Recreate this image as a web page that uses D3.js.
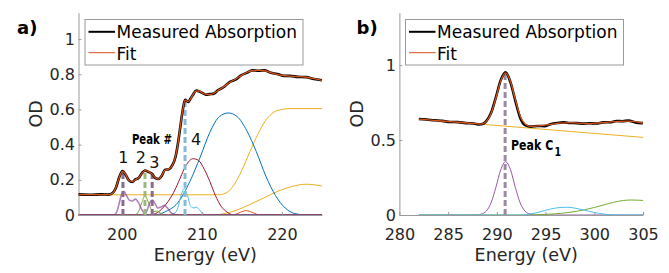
<!DOCTYPE html>
<html lang="en">
  <head>
    <meta charset="utf-8" />
    <script src="https://d3js.org/d3.v7.min.js"></script>
    <style>
      body { margin: 0; background: #fff; }
      text { font-family: "DejaVu Sans", Verdana, sans-serif; }
    </style>
  </head>
  <body>
    <script>
      var width = 669,
        height = 273;

      // ---------- panel a) data, [energy eV, OD]
      var aFit = [
        [194.6, 0.116], [198.4, 0.116], [198.9, 0.125], [199.3, 0.16], [199.7, 0.215],
        [200.1, 0.248], [200.5, 0.23], [200.9, 0.196], [201.3, 0.19], [201.7, 0.2],
        [202.1, 0.212], [202.5, 0.235], [202.9, 0.252], [203.3, 0.248], [203.8, 0.232],
        [204.2, 0.212], [204.6, 0.204], [205.0, 0.225], [205.4, 0.255], [205.9, 0.262],
        [206.3, 0.28], [206.7, 0.33], [207.0, 0.4], [207.3, 0.5], [207.6, 0.59],
        [207.9, 0.653], [208.3, 0.645], [208.6, 0.66], [208.9, 0.685], [209.3, 0.705],
        [209.7, 0.704], [210.1, 0.692], [210.5, 0.686], [211.0, 0.685], [211.5, 0.692],
        [212.0, 0.707], [212.7, 0.728], [213.5, 0.755], [214.2, 0.772], [214.9, 0.792],
        [215.6, 0.81], [216.3, 0.82], [217.1, 0.822], [217.8, 0.82], [218.6, 0.81],
        [219.4, 0.8], [220.2, 0.793], [221.0, 0.79], [222.0, 0.787], [223.0, 0.783],
        [224.0, 0.775], [225.0, 0.765]
      ];
      var aMeasured = [
        [194.6, 0.117], [196.0, 0.115], [197.5, 0.117], [198.4, 0.116], [198.9, 0.127],
        [199.3, 0.158], [199.7, 0.217], [200.1, 0.25], [200.5, 0.228], [200.9, 0.197],
        [201.3, 0.188], [201.7, 0.202], [202.1, 0.21], [202.5, 0.237], [202.9, 0.253],
        [203.3, 0.246], [203.8, 0.233], [204.2, 0.21], [204.6, 0.205], [205.0, 0.223],
        [205.4, 0.257], [205.9, 0.26], [206.3, 0.282], [206.7, 0.328], [207.0, 0.402],
        [207.3, 0.498], [207.6, 0.592], [207.9, 0.655], [208.3, 0.643], [208.6, 0.662],
        [208.9, 0.684], [209.3, 0.707], [209.7, 0.702], [210.1, 0.693], [210.5, 0.684],
        [211.0, 0.687], [211.5, 0.69], [212.0, 0.709], [212.7, 0.726], [213.5, 0.757],
        [214.2, 0.77], [214.9, 0.794], [215.6, 0.808], [216.3, 0.822], [217.1, 0.82],
        [217.8, 0.822], [218.6, 0.808], [219.4, 0.802], [220.2, 0.791], [221.0, 0.791],
        [222.0, 0.785], [223.0, 0.784], [224.0, 0.773], [225.0, 0.766]
      ];
      var aStep = [
        [194.6, 0.115], [212.0, 0.115], [213.0, 0.125], [214.0, 0.17], [215.0, 0.255],
        [216.0, 0.36], [217.0, 0.46], [218.0, 0.54], [219.0, 0.585], [220.0, 0.6],
        [221.0, 0.605], [225.0, 0.605]
      ];
      var aBroad = [
        [194.6, 0], [211.5, 0], [213.0, 0.01], [214.5, 0.03], [216.0, 0.06], [217.5, 0.092],
        [219.0, 0.125], [220.5, 0.152], [222.0, 0.17], [223.0, 0.175], [224.0, 0.172], [225.0, 0.165]
      ];
      var aBlue = [
        [194.6, 0], [204.0, 0], [205.5, 0.02], [207.0, 0.07], [208.5, 0.19], [209.8, 0.33],
        [211.0, 0.47], [212.2, 0.56], [213.3, 0.58], [214.4, 0.56], [215.6, 0.48],
        [216.8, 0.36], [218.0, 0.22], [219.2, 0.11], [220.4, 0.04], [221.6, 0.008],
        [223.0, 0], [225.0, 0]
      ];
      var aRed = [
        [194.6, 0], [203.5, 0], [204.5, 0.015], [205.5, 0.06], [206.5, 0.13], [207.3, 0.21],
        [208.0, 0.28], [208.9, 0.32], [209.6, 0.31], [210.3, 0.26], [211.0, 0.19],
        [211.7, 0.11], [212.4, 0.05], [213.2, 0.015], [214.0, 0], [225.0, 0]
      ];
      var aCyan = [
        [194.6, 0], [205.8, 0], [206.6, 0.01], [207.0, 0.04], [207.4, 0.11], [207.8, 0.15],
        [208.2, 0.11], [208.6, 0.05], [209.0, 0.04], [209.3, 0.045], [209.7, 0.03],
        [210.2, 0.005], [210.6, 0], [225.0, 0]
      ];
      var aGreen = [
        [194.6, 0], [201.6, 0], [202.1, 0.02], [202.5, 0.07], [202.9, 0.108], [203.3, 0.075],
        [203.7, 0.03], [204.0, 0.02], [204.4, 0.022], [204.8, 0.012], [205.3, 0.002],
        [205.8, 0], [225.0, 0]
      ];
      var aOrange = [
        [194.6, 0], [213.8, 0], [214.8, 0.015], [215.5, 0.025], [216.3, 0.015], [217.2, 0], [225.0, 0]
      ];
      var aPurple1 = [
        [194.6, 0], [199.0, 0], [199.4, 0.02], [199.7, 0.07], [200.0, 0.12], [200.25, 0.135],
        [200.6, 0.11], [201.0, 0.082], [201.3, 0.08], [201.7, 0.09], [202.1, 0.07],
        [202.5, 0.03], [202.9, 0.005], [203.3, 0], [225.0, 0]
      ];
      var aPurple2 = [
        [194.6, 0], [202.6, 0], [203.1, 0.02], [203.5, 0.07], [203.8, 0.085], [204.1, 0.07],
        [204.5, 0.04], [204.9, 0.045], [205.3, 0.055], [205.7, 0.04], [206.1, 0.015],
        [206.6, 0.002], [207.0, 0], [225.0, 0]
      ];
      // peak markers: energy, top of dashed line, colour
      var aPeakE = [200.15, 202.9, 203.8, 207.9];
      var aPeakTop = [0.248, 0.252, 0.232, 0.653];
      var aPeakColor = ["#8a6c90", "#9cb87e", "#8a6c90", "#86bad6"];
      // labels over the peaks, [energy, OD, text]
      var aLabels = [
        [200.19, 0.295, "1"], [202.39, 0.295, "2"], [204.08, 0.265, "3"], [209.28, 0.398, "4"]
      ];
      var aXTicks = [200, 210, 220];
      var aYTicks = [0, 0.2, 0.4, 0.6, 0.8, 1];

      // ---------- panel b) data
      var bFit = [
        [282, 0.64], [283, 0.635], [284, 0.629], [285, 0.624], [286, 0.619], [287, 0.614],
        [288, 0.608], [288.4, 0.606], [288.9, 0.623], [289.4, 0.675], [289.9, 0.779],
        [290.4, 0.895], [290.9, 0.949], [291.4, 0.89], [291.9, 0.77], [292.4, 0.66],
        [292.9, 0.608], [293.5, 0.592], [294.5, 0.596], [295.5, 0.605], [296.5, 0.613],
        [297.5, 0.617], [298.5, 0.612], [299.5, 0.61], [300.5, 0.614], [301.5, 0.62],
        [302.5, 0.625], [303.5, 0.627], [304.3, 0.622], [305, 0.614]
      ];
      var bMeasured = [
        [282, 0.641], [282.8, 0.637], [283.6, 0.632], [284.4, 0.628], [285.2, 0.621],
        [286, 0.62], [286.8, 0.613], [287.6, 0.611], [288.2, 0.604], [288.6, 0.609],
        [288.9, 0.625], [289.4, 0.68], [289.9, 0.785], [290.4, 0.9], [290.9, 0.952],
        [291.4, 0.885], [291.9, 0.762], [292.4, 0.648], [292.9, 0.6], [293.5, 0.59],
        [294.2, 0.594], [294.9, 0.593], [295.5, 0.606], [296.2, 0.614], [296.9, 0.618],
        [297.5, 0.614], [298.2, 0.613], [298.9, 0.61], [299.5, 0.612], [300.2, 0.611],
        [300.9, 0.618], [301.6, 0.619], [302.3, 0.627], [302.9, 0.626], [303.5, 0.63],
        [304.2, 0.618], [305, 0.613]
      ];
      var bBase = [[282, 0.64], [305, 0.518]];
      var bPurple = [
        [282, 0], [288, 0], [288.4, 0.006], [288.9, 0.025], [289.4, 0.08], [289.9, 0.184],
        [290.4, 0.302], [290.9, 0.356], [291.4, 0.302], [291.9, 0.184], [292.4, 0.08],
        [292.9, 0.025], [293.4, 0.006], [293.9, 0], [305, 0]
      ];
      var bCyan = [
        [282, 0], [292.5, 0], [293.5, 0.008], [294.5, 0.022], [295.5, 0.04], [296.5, 0.05],
        [297.2, 0.052], [298, 0.046], [299, 0.032], [300, 0.017], [301, 0.006], [302, 0.001],
        [303, 0], [305, 0]
      ];
      var bGreen = [
        [282, 0], [293, 0], [294.5, 0.003], [296, 0.008], [297.5, 0.018], [299, 0.035],
        [300, 0.05], [301, 0.068], [302, 0.085], [303, 0.097], [303.8, 0.1], [304.5, 0.099], [305, 0.097]
      ];
      var bPeakE = [290.85];
      var bPeakTop = [0.95];
      var bPeakColor = ["#9c8aa3"];
      var bXTicks = [280, 285, 290, 295, 300, 305];
      var bYTicks = [0, 0.5, 1];

      var svg = d3
        .select("body")
        .append("svg")
        .attr("width", width)
        .attr("height", height);

      function drawPanel(p) {
        var x = d3.scaleLinear().domain(p.xDomain).range([p.left, p.right]);
        var y = d3.scaleLinear().domain(p.yDomain).range([215, 12.7]);
        var line = d3
          .line()
          .x(function (d) { return x(d[0]); })
          .y(function (d) { return y(d[1]); })
          .curve(d3.curveMonotoneX);

        // fit components, thin lines
        p.parts.forEach(function (c) {
          svg.append("path")
            .datum(c.data)
            .attr("fill", "none")
            .attr("stroke", c.color)
            .attr("stroke-width", c.w || 1)
            .attr("stroke-opacity", c.o || 1)
            .attr("d", line);
        });

        // axes (MATLAB style, ticks inside)
        var gx = svg.append("g")
          .attr("transform", "translate(0,215)")
          .call(d3.axisBottom(x).tickValues(p.xTicks).tickSizeInner(-3).tickSizeOuter(0).tickPadding(14));
        var gy = svg.append("g")
          .attr("transform", "translate(" + p.left + ",0)")
          .call(d3.axisLeft(y).tickValues(p.yTicks).tickFormat(function (d) { return String(d); })
            .tickSizeInner(-3).tickSizeOuter(0).tickPadding(3.5));
        [gx, gy].forEach(function (g) {
          g.attr("font-family", null).attr("font-size", null);
          g.select(".domain").attr("stroke", "#9a9a9a");
          g.selectAll(".tick line").attr("stroke", "#9a9a9a");
          g.selectAll(".tick text").attr("fill", "#262626").style("font-size", "16px");
        });

        // dashed peak markers
        p.peakE.forEach(function (e, i) {
          svg.append("line")
            .attr("x1", x(e)).attr("x2", x(e))
            .attr("y1", y(0)).attr("y2", y(p.peakTop[i]))
            .attr("stroke", p.peakColor[i])
            .attr("stroke-width", 3)
            .attr("stroke-dasharray", "6,3");
        });

        // measured (black) with fit (orange) on top
        svg.append("path").datum(p.measured)
          .attr("fill", "none").attr("stroke", "#000").attr("stroke-width", 2.6)
          .attr("d", line);
        svg.append("path").datum(p.fit)
          .attr("fill", "none").attr("stroke", "#D95319").attr("stroke-width", 1.3)
          .attr("d", line);

        // legend
        var lg = svg.append("g").attr("transform", "translate(" + p.legendX + ",19.5)");
        lg.append("rect").attr("width", 218).attr("height", 45.5)
          .attr("fill", "#fff").attr("stroke", "#9a9a9a");
        lg.append("line").attr("x1", 3.5).attr("x2", 30).attr("y1", 12.3).attr("y2", 12.3)
          .attr("stroke", "#000").attr("stroke-width", 2);
        lg.append("line").attr("x1", 3.5).attr("x2", 30).attr("y1", 33.2).attr("y2", 33.2)
          .attr("stroke", "#D95319").attr("stroke-width", 1);
        lg.append("text").attr("x", 31.5).attr("y", 18.8).style("font-size", "17px")
          .text("Measured Absorption");
        lg.append("text").attr("x", 31.5).attr("y", 40).style("font-size", "17px")
          .text("Fit");

        // axis labels
        svg.append("text")
          .attr("x", (p.left + p.right) / 2 + 5).attr("y", 261)
          .attr("text-anchor", "middle").attr("fill", "#262626").style("font-size", "17.5px")
          .text("Energy (eV)");
        svg.append("text")
          .attr("transform", "translate(" + p.odX + ",113.8) rotate(-90)")
          .attr("text-anchor", "middle").attr("fill", "#262626").style("font-size", "17.5px")
          .text("OD");
        svg.append("text")
          .attr("x", p.tagX).attr("y", 33.5)
          .style("font-size", "18px").style("font-weight", "bold")
          .text(p.tag);

        return { x: x, y: y };
      }

      var A = drawPanel({
        xDomain: [194.6, 225], yDomain: [0, 1.15], left: 78.5, right: 322,
        xTicks: aXTicks, yTicks: aYTicks,
        parts: [
          { data: aStep, color: "#EDB120" },
          { data: aBroad, color: "#EDB120" },
          { data: aBlue, color: "#0072BD" },
          { data: aRed, color: "#A2142F" },
          { data: aCyan, color: "#4DBEEE" },
          { data: aGreen, color: "#77AC30" },
          { data: aOrange, color: "#D95319" },
          { data: aPurple2, color: "#7E2F8E", w: 1.6, o: 0.6 },
          { data: aPurple1, color: "#7E2F8E", w: 1.6, o: 0.6 }
        ],
        peakE: aPeakE, peakTop: aPeakTop, peakColor: aPeakColor,
        measured: aMeasured, fit: aFit,
        legendX: 85, odX: 41.5, tagX: 17, tag: "a)"
      });

      var B = drawPanel({
        xDomain: [280, 305], yDomain: [0, 1.35], left: 399.4, right: 643,
        xTicks: bXTicks, yTicks: bYTicks,
        parts: [
          { data: bBase, color: "#EDB120" },
          { data: bPurple, color: "#7E2F8E", o: 0.8 },
          { data: bGreen, color: "#77AC30" },
          { data: bCyan, color: "#4DBEEE" }
        ],
        peakE: bPeakE, peakTop: bPeakTop, peakColor: bPeakColor,
        measured: bMeasured, fit: bFit,
        legendX: 405.5, odX: 363, tagX: 356.5, tag: "b)"
      });

      // peak number annotations
      var narrow = '"Liberation Sans Narrow", "DejaVu Sans Condensed", "Arial Narrow", sans-serif';
      aLabels.forEach(function (l) {
        svg.append("text")
          .attr("x", A.x(l[0])).attr("y", A.y(l[1]))
          .attr("text-anchor", "middle").attr("fill", "#111").style("font-size", "16px")
          .text(l[2]);
      });
      svg.append("text")
        .attr("x", A.x(201.27)).attr("y", A.y(0.403))
        .attr("textLength", 40).attr("lengthAdjust", "spacingAndGlyphs")
        .style("font-family", narrow).style("font-weight", "bold").style("font-size", "14.5px")
        .text("Peak #");
      // "Peak C1" as one text, subscript in a tspan
      var pc = svg.append("text")
        .attr("x", B.x(291.46)).attr("y", B.y(0.434))
        .attr("textLength", 50).attr("lengthAdjust", "spacingAndGlyphs")
        .style("font-family", narrow).style("font-weight", "bold").style("font-size", "14.5px");
      pc.append("tspan").text("Peak C");
      pc.append("tspan").attr("dx", 1.5).attr("dy", 6.5).style("font-size", "12.5px").text("1");
    </script>
  </body>
</html>
